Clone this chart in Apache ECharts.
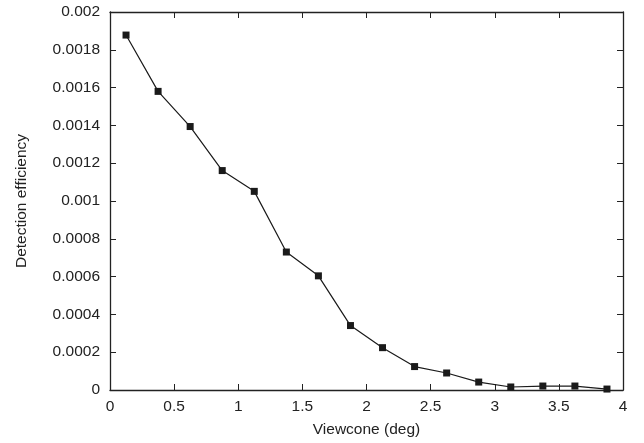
<!DOCTYPE html>
<html lang="en" style="height: 100%">
<head>
  <meta charset="utf-8">
  <script src="https://cdn.jsdelivr.net/npm/echarts@6/dist/echarts.min.js"></script>
  <style>
    body { height: 100%; margin: 0; background: #fff; }
    #chart { width: 644px; height: 443px; }
  </style>
</head>
<body>
  <div id="chart"></div>
  <script>
    // viewcone bin centres (deg) and detection efficiency
    const viewcone = [0.125, 0.375, 0.625, 0.875, 1.125, 1.375, 1.625, 1.875,
                      2.125, 2.375, 2.625, 2.875, 3.125, 3.375, 3.625, 3.875];
    const efficiency = [0.001878, 0.00158, 0.001394, 0.001161, 0.001051, 0.000730, 0.000604, 0.000341,
                        0.000224, 0.000124, 0.00009, 0.000042, 0.000016, 0.000021, 0.000021, 0.000005];
    const yTicks = [0, 0.0002, 0.0004, 0.0006, 0.0008, 0.001, 0.0012, 0.0014, 0.0016, 0.0018, 0.002];

    const font = 'Liberation Sans, Arial, sans-serif';
    const fs = 15.5;
    const axisLine = { show: true, onZero: false, lineStyle: { color: '#222', width: 1.3 } };
    const tick = { show: true, inside: true, length: 6, lineStyle: { color: '#222' } };

    var chart = echarts.init(document.getElementById('chart'));
    chart.setOption({
      animation: false,
      grid: { left: 110, right: 21, top: 12, bottom: 53, show: false },
      xAxis: [{
        type: 'value', min: 0, max: 4, interval: 0.5,
        name: 'Viewcone (deg)', nameLocation: 'middle', nameGap: 32,
        nameTextStyle: { fontFamily: font, fontSize: fs, color: '#222' },
        axisLine: axisLine, axisTick: tick, splitLine: { show: false },
        axisLabel: { fontFamily: font, fontSize: fs, color: '#222', margin: 9 }
      }, {
        type: 'value', min: 0, max: 4, interval: 0.5, position: 'top',
        axisLine: axisLine, axisTick: tick, splitLine: { show: false },
        axisLabel: { show: false }
      }],
      yAxis: [{
        type: 'value', min: 0, max: 0.002, interval: 0.0002,
        name: 'Detection efficiency', nameLocation: 'middle', nameGap: 80,
        nameTextStyle: { fontFamily: font, fontSize: fs, color: '#222' },
        axisLine: axisLine, axisTick: tick, splitLine: { show: false },
        axisLabel: {
          fontFamily: font, fontSize: fs, color: '#222', margin: 10,
          formatter: v => {
            const t = yTicks.find(k => Math.abs(k - v) < 1e-9);
            return String(t !== undefined ? t : v);
          }
        }
      }, {
        type: 'value', min: 0, max: 0.002, interval: 0.0002, position: 'right',
        axisLine: axisLine, axisTick: tick, splitLine: { show: false },
        axisLabel: { show: false }
      }],
      series: [{
        type: 'line',
        data: viewcone.map((x, i) => [x, efficiency[i]]),
        symbol: 'rect', symbolSize: 7,
        itemStyle: { color: '#1a1a1a' },
        lineStyle: { color: '#1a1a1a', width: 1.2 }
      }]
    });
  </script>
</body>
</html>
